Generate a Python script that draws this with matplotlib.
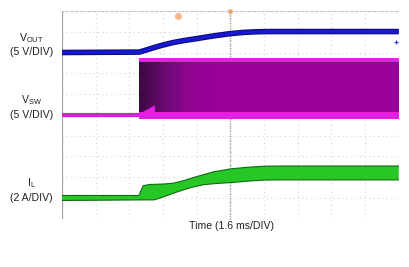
import numpy as np
import matplotlib
matplotlib.use("Agg")
import matplotlib.pyplot as plt
from matplotlib.colors import LinearSegmentedColormap

plt.rcParams['font.family'] = ['Liberation Sans', 'DejaVu Sans']
plt.rcParams['mathtext.default'] = 'regular'

# scope traces, in grid divisions (x: 0..10, y: 0..10)
t_vout = [0, 2.29, 2.4, 2.6, 2.8, 3.0, 3.3, 3.6, 4.0, 4.5, 5.0, 5.4, 5.8, 6.2, 10]
vout = [8.0, 8.02, 8.07, 8.17, 8.27, 8.36, 8.48, 8.57, 8.67, 8.8, 8.91, 8.97, 9.0, 9.01, 9.01]

sw_base = 5.0
sw_high = 7.72
sw_start = 2.29
t_spike = [2.3, 2.76, 2.76]
v_spike = [5.05, 5.45, 5.05]

t_il_hi = [0, 2.29, 2.33, 2.41, 2.6, 3.0, 3.3, 3.6, 4.0, 4.5, 5.0, 5.5, 6.0, 6.4, 10]
il_hi = [1.11, 1.11, 1.3, 1.58, 1.64, 1.66, 1.7, 1.82, 2.02, 2.25, 2.39, 2.47, 2.52, 2.53, 2.53]
t_il_lo = [0, 2.75, 3.0, 3.4, 3.8, 4.2, 4.6, 5.0, 5.5, 6.0, 6.4, 10]
il_lo = [0.87, 0.9, 1.04, 1.27, 1.48, 1.63, 1.69, 1.73, 1.8, 1.85, 1.86, 1.86]

labels = [("V$_{OUT}$", 8.70), ("(5 V/DIV)", 8.02),
          ("V$_{SW}$", 5.71), ("(5 V/DIV)", 4.99),
          ("I$_{L}$", 1.71), ("(2 A/DIV)", 1.0)]
xlabel = "Time (1.6 ms/DIV)"

fig = plt.figure(figsize=(4.09, 2.67), dpi=100)
ax = fig.add_axes([0.1516, 0.1816, 0.8234, 0.7772])
ax.set_xlim(0, 10)
ax.set_ylim(0, 10)
ax.set_xticks([])
ax.set_yticks([])
for s in ax.spines.values():
    s.set_visible(False)

# grid
for i in range(11):
    ax.axvline(i, color='#d2d2d2', lw=0.8, ls=(0, (1, 3)), zorder=0)
    ax.axhline(i, color='#d2d2d2', lw=0.8, ls=(0, (1, 3)), zorder=0)
ax.axvline(5, color='#a8a8a8', lw=0.9, ls=(0, (1, 1)), zorder=0)
ax.plot(np.full(51, 5.0), np.arange(0, 10.01, 0.2), ls='none', marker='_',
        ms=2, mew=0.5, color='#b4b4b4', zorder=0)
ax.axvline(0, color='#a5a5a5', lw=1.6, zorder=1)
ax.axhline(10, color='#b5b5b5', lw=0.9, ls=(0, (1, 1)), zorder=1)

# V_SW band
cmap = LinearSegmentedColormap.from_list('sw', ['#3a0842', '#6a0a72', '#8e0690', '#990099'])
grad = np.clip((np.linspace(sw_start, 10, 300) - sw_start) / 2.2, 0, 1)[None, :]
ax.imshow(grad, cmap=cmap, aspect='auto', extent=[sw_start, 10, sw_base, sw_high],
          zorder=2, interpolation='bilinear')
ax.fill_between([sw_start, 10], sw_high - 0.2, sw_high, color='#e61ee6', lw=0, zorder=3)
ax.plot([0, 10], [sw_base, sw_base], color='#d81ed8', lw=3.0, zorder=3,
        solid_capstyle='butt')
ax.fill_between([sw_start, 10], sw_base - 0.2, sw_base + 0.12, color='#e21fe2', lw=0, zorder=3)
ax.fill(t_spike, v_spike, color='#e21fe2', lw=0, zorder=4)

# V_OUT
ax.plot(t_vout, vout, color='#0a0a6a', lw=4.0, zorder=5, solid_capstyle='butt')
ax.plot(t_vout, vout, color='#1717d4', lw=2.6, zorder=5, solid_capstyle='butt')

# I_L
ax.fill(t_il_hi + t_il_lo[::-1], il_hi + il_lo[::-1], color='#26c826', lw=0, zorder=5)
ax.plot(t_il_hi, il_hi, color='#106a10', lw=0.8, zorder=6)
ax.plot(t_il_lo, il_lo, color='#106a10', lw=0.8, zorder=6)

# markers
ax.plot([3.45], [9.77], 'o', ms=5, color='#f7b48c', mec='none', zorder=7, clip_on=False)
ax.plot([5.0], [10.0], 's', ms=2.5, color='#eaa060', mec='none', zorder=7, clip_on=False)
ax.plot([9.92], [8.5], '+', ms=2.5, mew=0.8, color='#2a2ad0', zorder=7)

for txt, y in labels:
    ax.text(-0.91, y, txt, ha='center', va='center', fontsize=7.6, color='#222222',
            clip_on=False)
ax.text(5.02, -0.36, xlabel, ha='center', va='center', fontsize=7.6, color='#222222',
        clip_on=False)

fig.savefig('out.png', dpi=100)
